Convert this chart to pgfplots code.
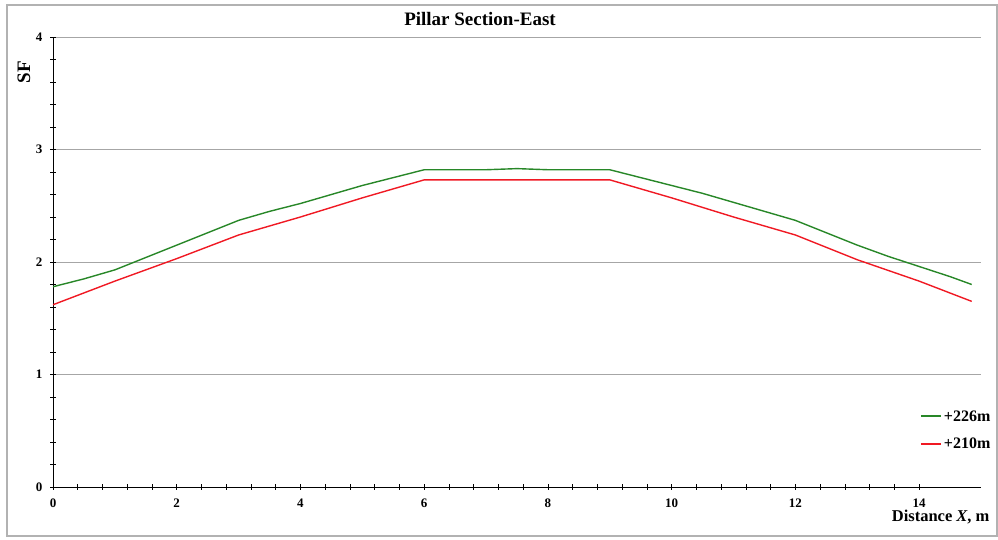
\documentclass[border=0pt]{standalone}
\usepackage{pgfplots}
\pgfplotsset{compat=1.18}
\usepackage{fontspec}
\setmainfont{Liberation Serif}
\definecolor{sfgreen}{RGB}{40,135,40}
\definecolor{sfred}{RGB}{240,25,35}
\begin{document}
\begin{tikzpicture}
\useasboundingbox (0,0) rectangle (998pt,540pt);
\draw[gray!60, line width=1.5pt] (7pt,4pt) rectangle (997pt,535pt);
\begin{axis}[
  at={(53pt,53pt)}, anchor=south west,
  width=928pt, height=450pt, scale only axis,
  xmin=0, xmax=15, ymin=0, ymax=4,
  axis lines=left, axis line style={-, black, line width=0.8pt},
  xtick={0,2,...,14}, ytick={0,1,2,3,4},
  minor x tick num=4, minor y tick num=4,
  tick align=center, major tick length=6pt, minor tick length=6pt,
  tick style={black, line width=0.6pt},
  ymajorgrids, grid style={gray!70, line width=0.8pt},
  /pgf/number format/assume math mode=true,
  tick label style={font=\bfseries\fontsize{13}{14}\selectfont},
  xticklabel style={font=\bfseries\fontsize{13}{14}\selectfont, yshift=-5pt},
  yticklabel style={font=\bfseries\fontsize{13}{14}\selectfont, xshift=-4pt},
  clip=false,
  legend style={at={(0.934,0.175)}, anchor=north west, draw=none, fill=none,
    font=\fontsize{16}{18}\selectfont\bfseries, row sep=11pt, inner sep=0pt},
  legend cell align=left,
  legend image code/.code={\draw[#1, line width=2pt] (0pt,0pt) -- (20pt,0pt);},
]
\addplot[sfgreen, line width=1.4pt] coordinates {
(0,1.78) (0.5,1.85) (1,1.93) (1.5,2.04) (2,2.15) (2.5,2.26) (3,2.37)
(3.5,2.45) (4,2.52) (4.5,2.60) (5,2.68) (5.5,2.75) (6,2.82) (7,2.82)
(7.5,2.83) (8,2.82) (9,2.82) (9.5,2.75) (10,2.68) (10.5,2.61) (11,2.53)
(11.5,2.45) (12,2.37) (12.5,2.26) (13,2.15) (13.5,2.05) (14,1.96)
(14.5,1.87) (14.85,1.80)};
\addlegendentry{+226m}
\addplot[sfred, line width=1.4pt] coordinates {
(0,1.62) (1,1.83) (2,2.03) (3,2.24) (4,2.40) (5,2.57) (6,2.73)
(7,2.73) (8,2.73) (9,2.73) (10,2.57) (11,2.40) (12,2.24) (13,2.02)
(14,1.83) (14.85,1.65)};
\addlegendentry{+210m}
\end{axis}
\node[font=\fontsize{19}{22}\selectfont\bfseries, anchor=base] at (480pt,514pt) {Pillar Section-East};
\node[font=\fontsize{19}{22}\selectfont\bfseries, rotate=90, anchor=center] at (24pt,468pt) {SF};
\node[font=\fontsize{16.5}{18}\selectfont\bfseries, anchor=base east] at (993pt,18pt) {Distance \textit{X}, m};
\end{tikzpicture}
\end{document}
